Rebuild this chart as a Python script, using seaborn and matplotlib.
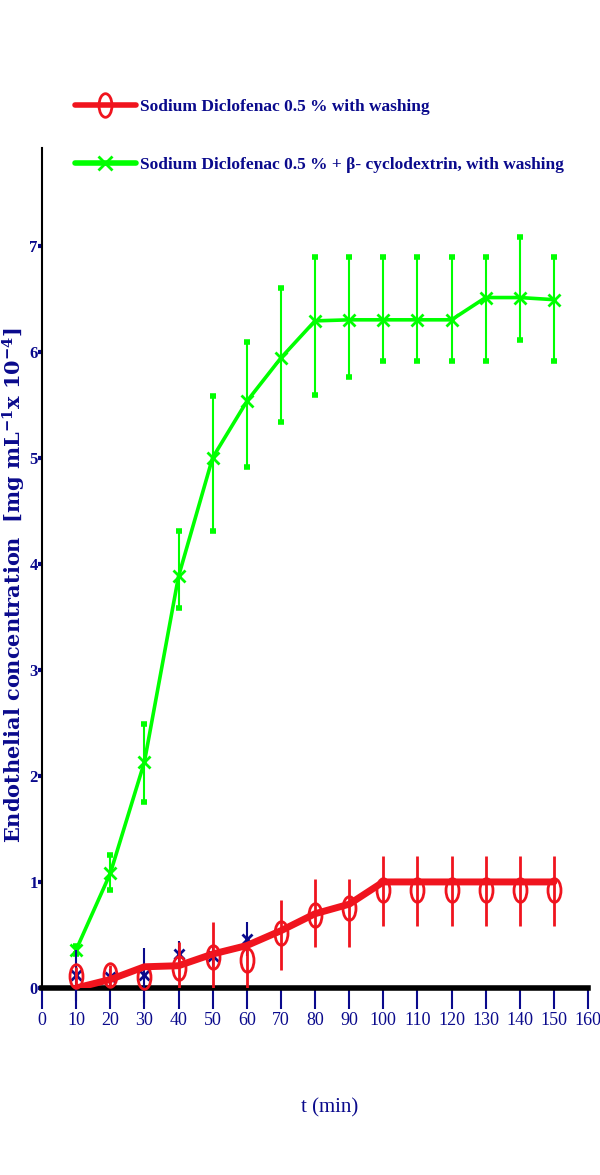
import matplotlib
matplotlib.use('Agg')
import matplotlib.pyplot as plt
from matplotlib.lines import Line2D
from matplotlib.path import Path
from matplotlib.transforms import Affine2D
import seaborn as sns
import numpy as np
import pandas as pd

sns.set_theme(style='white')
plt.rcParams['font.family'] = ['Liberation Serif', 'DejaVu Serif']
plt.rcParams['mathtext.default'] = 'regular'

# ---- data ----
t = [10, 20, 30, 40, 50, 60, 70, 80, 90, 100, 110, 120, 130, 140, 150]

green = [0.36, 1.08, 2.13, 3.88, 5.00, 5.53, 5.94, 6.29, 6.30, 6.30, 6.30, 6.30, 6.51, 6.51, 6.49]
green_hi = [0.40, 1.25, 2.49, 4.31, 5.58, 6.09, 6.60, 6.89, 6.89, 6.89, 6.89, 6.89, 6.89, 7.08, 6.89]
green_lo = [0.32, 0.92, 1.75, 3.58, 4.31, 4.91, 5.34, 5.59, 5.76, 5.91, 5.91, 5.91, 5.91, 6.11, 5.91]

red_line = [0.00, 0.08, 0.20, 0.21, 0.32, 0.40, 0.54, 0.70, 0.79, 1.00, 1.00, 1.00, 1.00, 1.00, 1.00]
red_mark = [0.11, 0.12, 0.10, 0.19, 0.29, 0.26, 0.52, 0.69, 0.75, 0.92, 0.92, 0.92, 0.92, 0.92, 0.92]
red_hi = [0.20, 0.22, 0.10, 0.43, 0.62, 0.40, 0.83, 1.03, 1.03, 1.24, 1.24, 1.24, 1.24, 1.24, 1.24]
red_lo = [0.00, 0.00, 0.10, 0.00, 0.00, 0.00, 0.17, 0.39, 0.39, 0.58, 0.58, 0.58, 0.58, 0.58, 0.58]

# partly hidden navy points under the red series
t_navy = [10, 20, 30, 40, 50, 60]
navy_y = [0.12, 0.10, 0.12, 0.32, 0.30, 0.46]
navy_err = [0.24, 0.08, 0.26, 0.12, 0.10, 0.16]

x_ticks = list(range(0, 161, 10))
y_ticks = list(range(0, 8))

label_red = 'Sodium Diclofenac 0.5 % with washing'
label_green = 'Sodium Diclofenac 0.5 % + β- cyclodextrin, with washing'

RED = '#f0141e'
GREEN = '#00ff00'
NAVY = '#0a0a8c'

df = pd.DataFrame({'t': t, 'green': green, 'red': red_line})

# tall open ellipse for the red markers
ellipse = Path.unit_circle().transformed(Affine2D().scale(0.55, 1.0))

fig = plt.figure(figsize=(6, 11.75), dpi=100)
ax = fig.add_axes([42 / 600, 187 / 1175, 546 / 600, 840 / 1175])

# green series
sns.lineplot(data=df, x='t', y='green', color=GREEN, lw=2.6, ax=ax, zorder=3)
g = np.array(green)
ax.errorbar(t, green, yerr=[g - np.array(green_lo), np.array(green_hi) - g],
            fmt='none', ecolor=GREEN, elinewidth=1.5, capsize=2, capthick=4, zorder=3)
ax.plot(t, green, ls='none', marker='x', ms=9, mew=2, color=GREEN, zorder=4, clip_on=False)

# navy points
ax.errorbar(t_navy, navy_y, yerr=navy_err, fmt='x', color=NAVY, ms=7, mew=2,
            elinewidth=1.5, capsize=0, zorder=4, clip_on=False)

# red series
sns.lineplot(data=df, x='t', y='red', color=RED, lw=5, ax=ax, zorder=5)
r = np.array(red_mark)
ax.errorbar(t, red_mark, yerr=[r - np.array(red_lo), np.array(red_hi) - r],
            fmt='none', ecolor=RED, elinewidth=2, capsize=0, zorder=5)
ax.plot(t, red_mark, ls='none', marker=ellipse, ms=17, mew=2, mfc='none', mec=RED,
        zorder=6, clip_on=False)

ax.set_xlim(0, 160)
ax.set_ylim(0, 7.92)
ax.set_xticks(x_ticks)
ax.set_yticks(y_ticks)
ax.set_xlabel('')
ax.set_ylabel('')

for s in ['top', 'right']:
    ax.spines[s].set_visible(False)
ax.spines['bottom'].set_color('black')
ax.spines['bottom'].set_linewidth(4)
ax.spines['left'].set_color('black')
ax.spines['left'].set_linewidth(1.5)

ax.tick_params(axis='x', direction='out', length=15, width=1.5, color=NAVY,
               labelcolor=NAVY, labelsize=13, pad=2, bottom=True)
ax.tick_params(axis='y', direction='out', length=3, width=3, color=NAVY,
               labelcolor=NAVY, labelsize=12, pad=0, left=True)
for lab in ax.get_yticklabels():
    lab.set_fontweight('bold')

fig.text(0.5 / 600, 1 - 585 / 1175,
         'Endothelial concentration  [mg mL$^{-1}$x 10$^{-4}$]',
         rotation=90, ha='left', va='center', color=NAVY,
         fontsize=15, fontweight='bold', family=['DejaVu Serif'])
fig.text(330 / 600, 1 - 1108 / 1175, 't (min)', ha='center', va='center',
         color=NAVY, fontsize=15)

handles = [
    Line2D([], [], color=RED, lw=4, marker=ellipse, ms=17, mew=2, mfc='none', mec=RED),
    Line2D([], [], color=GREEN, lw=4, marker='x', ms=10, mew=2, mec=GREEN),
]
leg = fig.legend(handles, [label_red, label_green], loc='upper left',
                 bbox_to_anchor=(75 / 600, 1 - 99 / 1175), frameon=False,
                 prop={'size': 12.5, 'weight': 'bold'}, handlelength=3.5,
                 handletextpad=0.25, labelspacing=2.4, borderpad=0, borderaxespad=0)
for txt in leg.get_texts():
    txt.set_color(NAVY)

fig.savefig('out.png', dpi=100)
